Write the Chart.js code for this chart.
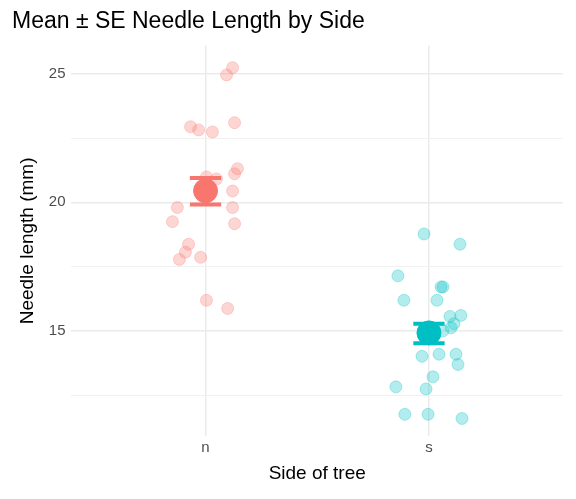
<!DOCTYPE html>
<html>
<head>
<meta charset="utf-8">
<script src="https://cdn.jsdelivr.net/npm/chart.js@4/dist/chart.umd.min.js"></script>
<style>
  html, body { margin: 0; padding: 0; background: #fff; }
  #wrap { width: 576px; height: 499px; }
</style>
</head>
<body>
<div id="wrap"><canvas id="c"></canvas></div>
<script>
const categories = ['n', 's'];
// jittered x positions (category index 1 = n, 2 = s) and needle lengths
const nX = [1.121, 1.094, 0.933, 0.969, 1.031, 1.130, 1.143, 1.130, 1.004, 1.049, 1.121, 0.874, 1.121, 0.852, 1.130, 0.924, 0.910, 0.883, 0.978, 1.004, 1.099];
const nY = [25.24, 24.96, 22.94, 22.82, 22.74, 23.10, 21.31, 21.11, 20.99, 20.91, 20.44, 19.80, 19.80, 19.25, 19.17, 18.37, 18.06, 17.78, 17.86, 16.19, 15.87];
const sX = [1.978, 2.139, 1.861, 1.888, 2.036, 2.054, 2.063, 2.094, 2.143, 2.112, 2.099, 2.063, 1.969, 2.045, 2.121, 2.130, 2.018, 1.852, 1.987, 1.892, 1.996, 2.148];
const sY = [18.77, 18.37, 17.14, 16.19, 16.19, 16.71, 16.71, 15.56, 15.60, 15.28, 15.12, 15.00, 14.01, 14.09, 14.09, 13.69, 13.21, 12.82, 12.74, 11.75, 11.75, 11.59];
const means = [20.45, 14.92];
const seLow = [19.92, 14.52];
const seHigh = [20.95, 15.28];
const colors = ['#F8766D', '#00BFC4'];
const capHalf = 0.07;

const pts = (xs, ys) => xs.map((x, i) => ({ x: x, y: ys[i] }));

const datasets = [];
[[nX, nY], [sX, sY]].forEach((g, i) => {
    datasets.push({
        type: 'scatter',
        data: pts(g[0], g[1]),
        backgroundColor: colors[i] + '4D',
        borderColor: colors[i] + '4D',
        pointRadius: 6,
        pointBorderWidth: 1
    });
});
means.forEach((m, i) => {
    const cx = i + 1;
    // error bar: cap, stem, cap
    datasets.push({
        type: 'line',
        data: [
            { x: cx - capHalf, y: seHigh[i] }, { x: cx + capHalf, y: seHigh[i] },
            { x: NaN, y: NaN },
            { x: cx, y: seHigh[i] }, { x: cx, y: seLow[i] },
            { x: NaN, y: NaN },
            { x: cx - capHalf, y: seLow[i] }, { x: cx + capHalf, y: seLow[i] }
        ],
        borderColor: colors[i],
        borderWidth: 4,
        pointRadius: 0,
        spanGaps: false,
        fill: false
    });
    datasets.push({
        type: 'scatter',
        data: [{ x: cx, y: m }],
        backgroundColor: colors[i],
        borderColor: colors[i],
        pointRadius: 12
    });
});

new Chart(document.getElementById('c').getContext('2d'), {
    type: 'scatter',
    data: { datasets: datasets },
    options: {
        responsive: true,
        maintainAspectRatio: false,
        animation: false,
        layout: { padding: { left: 12, right: 12, top: 6, bottom: 10 } },
        plugins: {
            legend: { display: false },
            tooltip: { enabled: false },
            title: {
                display: true,
                text: 'Mean \u00b1 SE Needle Length by Side',
                align: 'start',
                color: '#000',
                font: { family: 'Liberation Sans', size: 23, weight: 'normal' },
                padding: { top: 2, bottom: 10 }
            }
        },
        scales: {
            x: {
                type: 'linear',
                min: 0.4,
                max: 2.6,
                afterBuildTicks: axis => { axis.ticks = [{ value: 1 }, { value: 2 }]; },
                ticks: {
                    callback: v => categories[v - 1] || '',
                    color: '#4d4d4d',
                    font: { family: 'Liberation Sans', size: 15 }
                },
                grid: { color: '#ebebeb', lineWidth: 1.5, drawTicks: false },
                border: { display: false },
                title: {
                    display: true,
                    text: 'Side of tree',
                    color: '#000',
                    font: { family: 'Liberation Sans', size: 19 },
                    padding: { top: 2 }
                }
            },
            y: {
                min: 10.9,
                max: 26.1,
                afterBuildTicks: axis => {
                    axis.ticks = [12.5, 15, 17.5, 20, 22.5, 25].map(v => ({ value: v }));
                },
                ticks: {
                    callback: v => (v % 5 === 0 ? v : ''),
                    color: '#4d4d4d',
                    padding: 6,
                    font: { family: 'Liberation Sans', size: 15 }
                },
                grid: {
                    color: ctx => (ctx.tick && ctx.tick.value % 5 === 0 ? '#ebebeb' : '#f1f1f1'),
                    lineWidth: ctx => (ctx.tick && ctx.tick.value % 5 === 0 ? 1.5 : 1),
                    drawTicks: false
                },
                border: { display: false },
                title: {
                    display: true,
                    text: 'Needle length (mm)',
                    color: '#000',
                    font: { family: 'Liberation Sans', size: 19 }
                }
            }
        }
    }
});
</script>
</body>
</html>
